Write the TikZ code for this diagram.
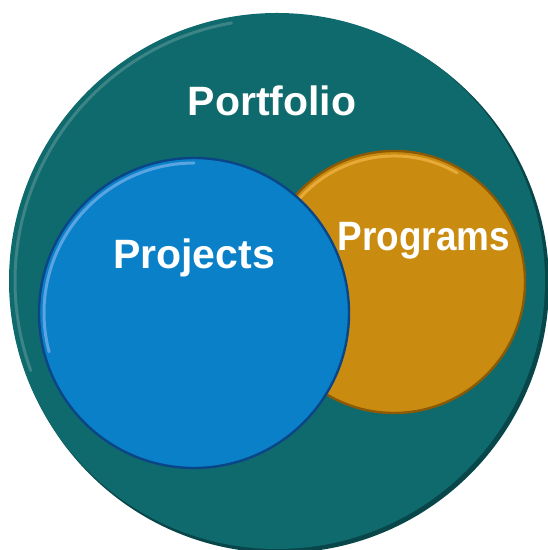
\documentclass[tikz,border=0pt]{standalone}
\usepackage{fontspec}
\setmainfont{Liberation Sans}
\definecolor{portteal}{RGB}{14, 106, 108}
\definecolor{portdark}{RGB}{8, 70, 74}
\definecolor{portlight}{RGB}{60, 132, 134}
\definecolor{projblue}{RGB}{10, 128, 200}
\definecolor{projdark}{RGB}{10, 70, 135}
\definecolor{projlight}{RGB}{90, 165, 225}
\definecolor{proggold}{RGB}{201, 140, 16}
\definecolor{progdark}{RGB}{140, 90, 5}
\definecolor{proglight}{RGB}{232, 170, 55}
\usetikzlibrary{positioning}

\begin{document}
\begin{tikzpicture}[x=0.5pt, y=0.5pt,
  disc/.style={circle, inner sep=0pt, line width=1.2pt},
  gleam/.style={line width=1.5pt, line cap=round},
  venntext/.style={text=white, font=\fontsize{20.5}{24}\selectfont\bfseries, inner sep=0pt}
]
  \useasboundingbox (0, 0) rectangle (547, 550);
  % outer circle with its shadow rim
  \fill[portdark] (280, 266) circle[radius=269];
  \node[disc, fill=portteal, minimum size=268pt] (portfolio) at (277, 269) {};
  \draw[gleam, portlight] ([shift={(100:262)}]portfolio.center) arc[start angle=100, end angle=200, radius=262];
  % programs
  \node[disc, fill=proggold, draw=progdark, minimum size=131pt] (programs) at (394, 268) {};
  \draw[gleam, proglight] ([shift={(60:126)}]programs.center) arc[start angle=60, end angle=150, radius=126];
  % projects
  \node[disc, fill=projblue, draw=projdark, minimum size=155pt] (projects) at (194, 237) {};
  \draw[gleam, projlight] ([shift={(90:150)}]projects.center) arc[start angle=90, end angle=195, radius=150];
  % labels
  \node[venntext] (portfoliotext) at (272, 449) {Portfolio};
  \node[venntext] (projectstext) at (194, 292) {Projects};
  \node[venntext, xscale=0.9, transform shape] (programstext) at (424, 309) {Programs};
\end{tikzpicture}
\end{document}
